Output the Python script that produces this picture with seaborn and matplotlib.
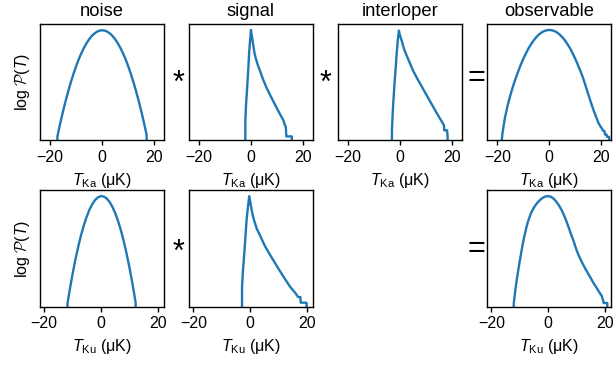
import matplotlib
matplotlib.use("Agg")
import matplotlib.pyplot as plt
import seaborn as sns
import pandas as pd

# ---------------- data (log P in arbitrary units) ----------------
ka_noise_T = [-17.25, -17.2, -17, -16, -15, -14, -13, -12, -11, -10, -9, -8, -7, -6, -5, -4, -3, -2, -1,
              0, 1, 2, 3, 4, 5, 6, 7, 8, 9, 10, 11, 12, 13, 14, 15, 16, 17, 17.1, 17.15]
ka_noise_logP = [-0.3, 0.035, 0.056, 0.158, 0.253, 0.342, 0.425, 0.502, 0.573, 0.638, 0.697, 0.749,
                 0.795, 0.835, 0.869, 0.897, 0.918, 0.934, 0.943, 0.946, 0.943, 0.934, 0.918, 0.897,
                 0.869, 0.835, 0.795, 0.749, 0.697, 0.638, 0.573, 0.502, 0.425, 0.342, 0.253, 0.158,
                 0.056, 0.035, -0.3]

ka_signal_T = [-2.3, -2.25, -2.0, -1.55, -1.1, -0.8, -0.4, -0.1, 0.2, 0.5, 0.9, 1.3, 1.8, 2.5, 3.35,
               4.5, 5.8, 7.4, 9.0, 10.7, 12.4, 12.8, 13.3, 13.5, 15.6, 15.6]
ka_signal_logP = [-0.3, 0.171, 0.30, 0.457, 0.62, 0.75, 0.87, 0.949, 0.905, 0.862, 0.80, 0.747, 0.70,
                  0.65, 0.60, 0.527, 0.457, 0.383, 0.314, 0.24, 0.171, 0.14, 0.114, 0.034, 0.034, -0.3]

ka_inter_T = [-3.2, -3.2, -2.8, -2.3, -1.8, -1.4, -0.9, -0.5, -0.2, 0.2, 0.65, 1.4, 2.2, 3.0, 4.0, 4.9,
              6.6, 8.4, 10.2, 12.0, 13.8, 15.7, 16.8, 16.9, 18.0, 18.2, 18.2]
ka_inter_logP = [-0.3, 0.086, 0.28, 0.457, 0.61, 0.743, 0.87, 0.943, 0.91, 0.88, 0.85, 0.79, 0.743,
                 0.70, 0.648, 0.60, 0.528, 0.457, 0.385, 0.314, 0.243, 0.171, 0.129, 0.086, 0.086,
                 0.03, -0.3]

ka_obs_T = [-18.25, -18.2, -18.0, -17.6, -17, -16, -15, -14, -13, -12, -11, -10, -9, -8, -7, -6, -5,
            -4, -3, -2, -1, 0, 1, 2, 3, 4, 5, 6, 7, 8, 9, 10, 11, 12, 13, 14, 15, 16, 17, 18, 19,
            19.8, 20.3, 20.5, 21.2, 21.4, 22.0, 22.2, 23.0, 23.0]
ka_obs_logP = [-0.3, 0.02, 0.06, 0.12, 0.20, 0.30, 0.385, 0.461, 0.528, 0.59, 0.648, 0.70, 0.747,
               0.79, 0.827, 0.859, 0.887, 0.909, 0.927, 0.939, 0.946, 0.949, 0.946, 0.939, 0.927,
               0.909, 0.887, 0.859, 0.827, 0.790, 0.747, 0.700, 0.648, 0.594, 0.535, 0.465, 0.395,
               0.325, 0.26, 0.20, 0.145, 0.115, 0.10, 0.086, 0.08, 0.05, 0.05, 0.03, 0.03, -0.3]

ku_noise_T = [-11.85, -11.8, -11, -10, -9, -8, -7, -6, -5, -4, -3, -2, -1, 0, 1, 2, 3, 4, 5, 6, 7, 8,
              9, 10, 11, 12, 12.25, 12.3]
ku_noise_logP = [-0.3, 0.026, 0.145, 0.282, 0.406, 0.517, 0.616, 0.702, 0.775, 0.836, 0.884, 0.919,
                 0.941, 0.951, 0.947, 0.931, 0.903, 0.861, 0.807, 0.740, 0.661, 0.568, 0.463, 0.345,
                 0.215, 0.072, 0.034, -0.3]

ku_signal_T = [-2.8, -2.8, -2.5, -2.0, -1.6, -1.2, -0.7, -0.25, 0.35, 0.8, 1.4, 2.4, 3.8, 5.2, 6.8,
               8.6, 10.4, 12.3, 14.2, 16.2, 16.5, 17.0, 17.8, 17.9, 19.8, 20.0, 20.0]
ku_signal_logP = [-0.3, 0.17, 0.30, 0.457, 0.60, 0.744, 0.86, 0.951, 0.865, 0.805, 0.747, 0.67, 0.60,
                  0.525, 0.457, 0.385, 0.313, 0.24, 0.17, 0.112, 0.10, 0.083, 0.083, 0.035, 0.035,
                  0.03, -0.3]

ku_obs_T = [-12.15, -12.1, -11.5, -11, -10.5, -10, -9.5, -9, -8.5, -8, -7.5, -7, -6, -5, -4, -3, -2,
            -1, 0, 1, 2, 3, 4, 5, 6, 7, 8, 9, 10, 11, 12, 13, 14, 15, 16, 17, 18, 18.6, 19.0, 19.2,
            19.5, 19.6, 20.9, 20.9]
ku_obs_logP = [-0.3, 0.03, 0.15, 0.24, 0.315, 0.39, 0.46, 0.53, 0.59, 0.645, 0.695, 0.738, 0.805,
               0.852, 0.887, 0.914, 0.934, 0.947, 0.951, 0.945, 0.928, 0.90, 0.865, 0.82, 0.765, 0.70,
               0.63, 0.565, 0.49, 0.43, 0.38, 0.333, 0.29, 0.248, 0.205, 0.167, 0.127, 0.105, 0.09,
               0.069, 0.05, 0.032, 0.032, -0.3]

col_titles = ["noise", "signal", "interloper", "observable"]
bands = ["Ka", "Ku"]
operators_ka = ["*", "*", "="]
operators_ku = ["*", None, "="]
xticks = [-20, 0, 20]

# ---------------- style ----------------
sns.set_theme(style="ticks")
plt.rcParams["font.family"] = ["Liberation Sans", "DejaVu Sans"]
plt.rcParams.update({
    "mathtext.fontset": "custom",
    "mathtext.rm": "Liberation Sans",
    "mathtext.it": "Liberation Sans:italic",
    "mathtext.bf": "Liberation Sans:bold",
    "mathtext.cal": "cmsy10",
    "axes.edgecolor": "black",
    "axes.linewidth": 1.0,
    "xtick.color": "black",
    "xtick.major.width": 1.0,
    "xtick.major.size": 3.5,
    "xtick.labelsize": 11.5,
    "axes.labelsize": 11.5,
    "axes.titlesize": 13.2,
    "text.color": "black",
    "axes.labelcolor": "black",
})

fig, axes = plt.subplots(2, 4, figsize=(6.16, 3.66), dpi=100)
fig.subplots_adjust(left=0.0649, right=0.9914, top=0.9344, bottom=0.162, wspace=0.206, hspace=0.43)

panels = {
    (0, 0): (ka_noise_T, ka_noise_logP),
    (0, 1): (ka_signal_T, ka_signal_logP),
    (0, 2): (ka_inter_T, ka_inter_logP),
    (0, 3): (ka_obs_T, ka_obs_logP),
    (1, 0): (ku_noise_T, ku_noise_logP),
    (1, 1): (ku_signal_T, ku_signal_logP),
    (1, 3): (ku_obs_T, ku_obs_logP),
}
xlims = {0: (-23.9, 23.6), 1: (-21.5, 22.1)}

for (r, c), (T, L) in panels.items():
    ax = axes[r, c]
    df = pd.DataFrame({"T": T, "logP": L})
    sns.lineplot(data=df, x="T", y="logP", ax=ax, sort=False, estimator=None,
                 color="#1f77b4", linewidth=1.7)
    ax.set_xlim(*xlims[r])
    ax.set_ylim(0, 1)
    ax.set_yticks([])
    ax.set_xticks(xticks)
    ax.set_xlabel(r"$T_{\mathrm{" + bands[r] + r"}}$ (μK)")
    ax.set_ylabel("")
    if r == 0:
        ax.set_title(col_titles[c])
    if c == 0:
        ax.set_ylabel(r"log $\mathcal{P}(T)$", labelpad=6)

axes[1, 2].axis("off")

# operators between panels
op_x = [0.289, 0.5276, 0.774]
op_y = {"*": (0.771, 0.310), "=": (0.787, 0.320)}
for i, op in enumerate(operators_ka):
    if op:
        fig.text(op_x[i], op_y[op][0], op, ha="center", va="center", fontsize=22)
for i, op in enumerate(operators_ku):
    if op:
        fig.text(op_x[i], op_y[op][1], op, ha="center", va="center", fontsize=22)

fig.savefig("out.png", dpi=100)
